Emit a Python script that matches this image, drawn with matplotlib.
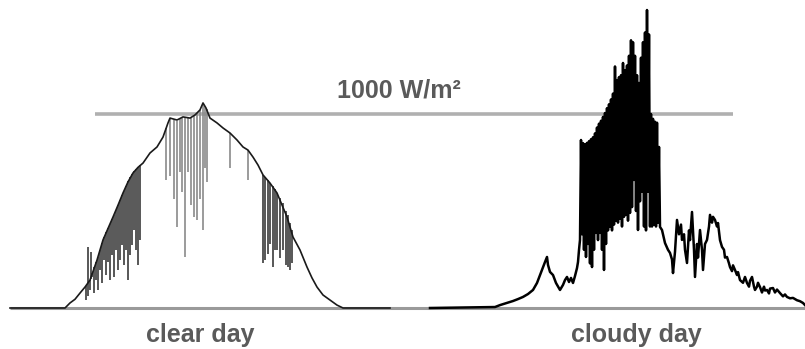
import matplotlib
matplotlib.use("Agg")
import matplotlib.pyplot as plt
import numpy as np

# ---------------- data (time in arbitrary horizontal units, irradiance in W/m²) -------------
# clear day: smooth envelope
clear_t = [10, 65, 70, 75, 80, 85, 90, 97, 103, 108, 113, 118, 123, 128, 133, 138, 143, 150, 157, 163,
           168, 170, 177, 183, 190, 195, 200, 203, 206, 210, 217, 223, 230, 237, 243, 248, 253, 258, 263, 270,
           277, 282, 287, 293, 300, 307, 312, 317, 323, 330, 337, 343, 390]
clear_v = [0, 0, 26, 45, 77, 108, 144, 247, 351, 410, 469, 530, 593, 650, 696, 725, 747, 799, 830, 881,
           954, 979, 969, 985, 979, 995, 1021, 1057, 1031, 979, 954, 928, 902, 866, 830, 814, 778, 737, 686, 644,
           593, 531, 469, 366, 299, 211, 155, 108, 67, 41, 15, 0, 0]

# clear day: short cloud transients on the morning / afternoon flanks (time, low, high)
flank_t = [86, 88, 88, 90, 91, 92, 94, 96, 98, 100, 102, 104, 106, 108, 110, 112, 114, 116, 118, 120,
           122, 124, 126, 128, 130, 132, 134, 136, 138, 140,
           263, 265, 268, 270, 273, 275, 277, 280, 283, 286, 288, 290, 292]
flank_lo = [41, 62, 130, 93, 150, 160, 77, 144, 93, 196, 129, 247, 170, 237, 144, 273, 160, 299, 196, 247,
            325, 222, 299, 144, 273, 325, 402, 299, 222, 351,
            232, 250, 280, 330, 211, 300, 299, 260, 299, 220, 211, 196, 230]
flank_hi = [115, 130, 315, 144, 290, 180, 210, 235, 265, 300, 335, 365, 390, 410, 435, 460, 480, 505, 530, 555,
            580, 605, 630, 655, 675, 690, 705, 715, 725, 735,
            686, 675, 660, 645, 630, 615, 593, 565, 540, 500, 480, 440, 400]

# clear day: isolated transients around noon (time, low, high)
noon_t = [166, 170, 174, 177, 180, 182, 185, 188, 191, 194, 197, 200, 203, 205, 207, 230, 248]
noon_lo = [660, 680, 560, 418, 700, 600, 263, 700, 530, 469, 454, 560, 402, 720, 650, 722, 660]
noon_hi = [930, 975, 968, 966, 975, 980, 985, 982, 980, 990, 1003, 1021, 1057, 1040, 1025, 902, 812]

# cloudy day
cloudy_rise_t = [430, 495, 500, 507, 513, 518, 523, 528, 533, 537, 540, 543, 545, 547, 548, 550, 553, 556, 560, 563,
                 565, 567, 569, 571, 573, 575, 577, 578, 579]
cloudy_rise_v = [0, 5, 15, 26, 36, 46, 57, 72, 93, 129, 170, 211, 237, 263, 222, 186, 170, 129, 93, 119,
                 144, 160, 134, 155, 129, 165, 206, 237, 299]
cloudy_peak_start = 580
cloudy_peak_v = [351, 866, 380, 850, 300, 845, 263, 851, 330, 860,
                 230, 870, 211, 880, 300, 900, 387, 930, 350, 950,
                 387, 965, 300, 985, 196, 1005, 330, 1030, 400, 1050,
                 418, 1075, 400, 1105, 430, 1245, 450, 1175, 440, 1190,
                 460, 1200, 420, 1263, 470, 1225, 480, 1250, 450, 1300,
                 490, 1380, 520, 1370, 660, 1300, 500, 1200, 402, 1160,
                 550, 1290, 600, 1370, 420, 1420, 400, 1536, 600, 1410,
                 420, 1000, 420, 975, 430, 960, 420, 955, 440, 830,
                 418]
cloudy_tail_t = [662, 665, 668, 670, 672, 673, 675, 677, 679, 681, 682, 684, 685, 687, 689, 690, 692, 694, 695, 697,
                 698, 700, 702, 703, 705, 707, 709, 710, 712, 713, 715, 717, 718, 720, 722, 724, 725, 727, 729, 730,
                 732, 733, 735, 737, 738, 740, 743, 745, 747, 749, 750, 752, 754, 755, 757, 758, 760, 762, 764, 765,
                 767, 769, 770, 773, 775, 777, 780, 783, 785, 787, 790, 793, 797, 800, 803, 805]
cloudy_tail_v = [402, 335, 300, 284, 250, 180, 290, 454, 380, 430, 351, 380, 300, 232, 400, 350, 495, 300, 160, 330,
                 260, 402, 300, 196, 330, 351, 420, 480, 440, 470, 454, 420, 438, 350, 315, 300, 260, 263, 230, 211,
                 190, 220, 196, 170, 185, 144, 130, 160, 129, 110, 140, 160, 110, 93, 110, 130, 108, 80, 110, 90,
                 93, 75, 100, 103, 80, 95, 77, 60, 70, 57, 50, 52, 40, 35, 26, 15]

ref_level = 1000
ref_label = "1000 W/m²"
day_labels = ["clear day", "cloudy day"]

# ---------------- figure ----------------
W, H = 805, 349
fig = plt.figure(figsize=(W / 100, H / 100), dpi=100)
ax = fig.add_axes([0, 0, 1, 1])
ax.set_xlim(0, W)
# pixel row 308 -> 0 W/m², row 114 -> 1000 W/m²
scale = 1000 / 194
ax.set_ylim((308 - H) * scale, 308 * scale)
ax.axis("off")

# reference lines
ax.hlines(0, 10, 805, color="#9a9a9a", lw=2.2, zorder=1)
ax.hlines(ref_level, 95, 733, color="#b0b0b0", lw=2.6, zorder=1)

# clear day
ax.vlines(flank_t, flank_lo, flank_hi, color="#2a2a2a", lw=1.1, zorder=2)
ax.vlines(noon_t, noon_lo, noon_hi, color="#8a8a8a", lw=1.2, zorder=2)
ax.plot(clear_t, clear_v, color="#1a1a1a", lw=1.2, zorder=3)

# cloudy day
peak_t = np.arange(cloudy_peak_start, cloudy_peak_start + len(cloudy_peak_v))
cl_t = np.concatenate([cloudy_rise_t, peak_t, cloudy_tail_t])
cl_v = np.concatenate([cloudy_rise_v, cloudy_peak_v, cloudy_tail_v])
ax.plot(cl_t, cl_v, color="#000000", lw=1.8, zorder=3)

# text
font = dict(family=["Liberation Sans", "DejaVu Sans"], weight="bold", color="#5a5a5a", fontsize=18)
ax.text(399, (308 - 98) * scale, ref_label, ha="center", va="baseline", **font)
ax.text(200, (308 - 342) * scale, day_labels[0], ha="center", va="baseline", **font)
ax.text(636, (308 - 342) * scale, day_labels[1], ha="center", va="baseline", **font)

fig.savefig("out.png", dpi=100)
